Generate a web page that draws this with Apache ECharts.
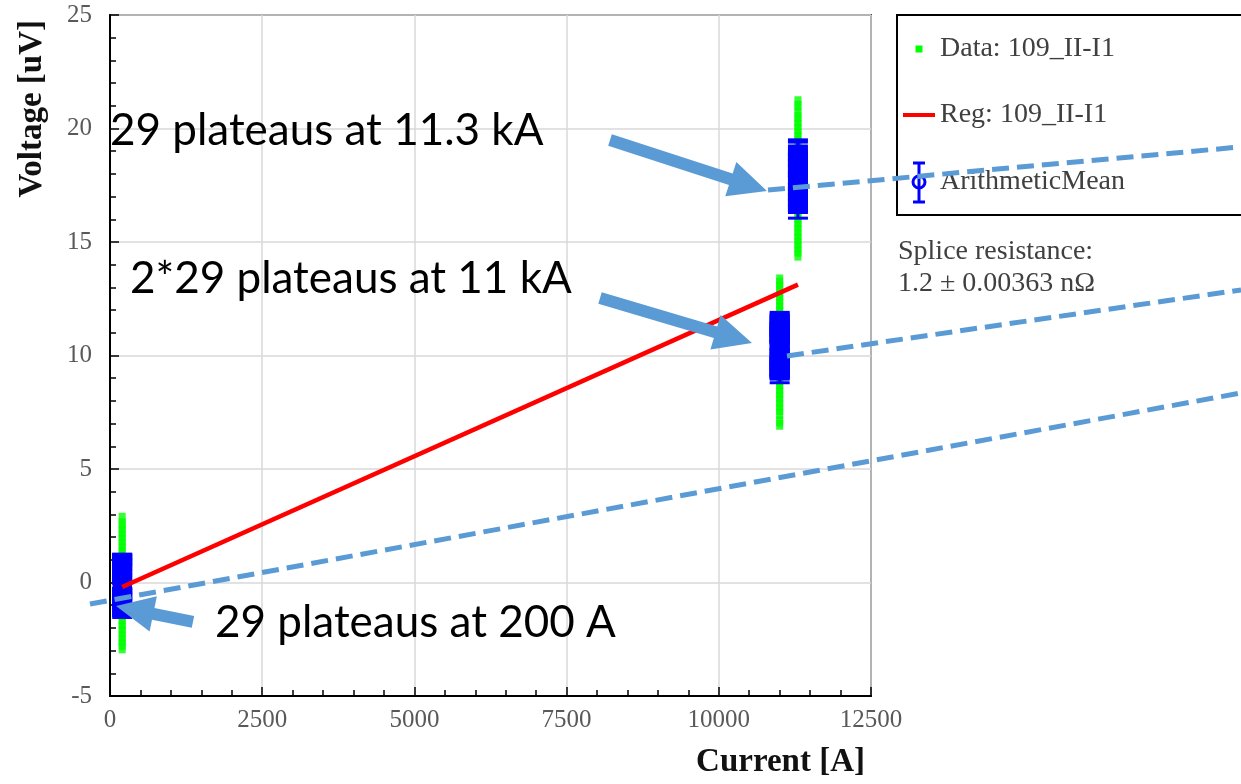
<!DOCTYPE html>
<html>
<head>
<meta charset="utf-8">
<script src="https://cdn.jsdelivr.net/npm/echarts@6/dist/echarts.min.js"></script>
<style>
  html, body { margin: 0; padding: 0; background: #ffffff; }
  #chart { width: 1241px; height: 784px; }
</style>
</head>
<body>
<div id="chart"></div>
<script>
// Plateau currents [A]
const plateauCurrents = [200, 11000, 11300];

// Raw voltage samples [uV] on each plateau
const rawAt200 = [-2.90, -2.74, -2.55, -2.38, -2.17, -1.99, -1.82, -1.60, -1.43, -1.26, -1.05, -0.88, -0.70, -0.51, -0.33, -0.14,
  0.04, 0.22, 0.41, 0.59, 0.77, 0.96, 1.13, 1.31, 1.50, 1.68, 1.87, 2.05, 2.24, 2.42, 2.61, 2.85];
const rawAt11000 = [6.95, 7.10, 7.42, 7.60, 7.81, 7.99, 8.18, 8.37, 8.55, 8.74, 8.92, 9.11, 9.30, 9.48, 9.67, 9.85, 10.04, 10.23,
  10.41, 10.60, 10.78, 10.97, 11.16, 11.34, 11.53, 11.71, 11.90, 12.09, 12.27, 12.46, 12.64, 12.83, 13.02, 13.20, 13.35];
const rawAt11300 = [14.40, 14.58, 14.77, 14.95, 15.14, 15.32, 15.51, 15.70, 15.88, 16.07, 16.25, 16.44, 16.62, 16.81, 17.00, 17.18,
  17.37, 17.55, 17.74, 17.92, 18.11, 18.30, 18.48, 18.67, 18.85, 19.04, 19.22, 19.41, 19.60, 19.78, 19.97, 20.15, 20.34, 20.52,
  20.75, 21.00, 21.20];

// Arithmetic mean per plateau [uV]
const meansAt200 = [0.12, -0.35, 0.48, -0.62, 0.05, -0.18, 0.31, -0.79, 0.22, -0.44, 0.39, -0.07, -0.55, 0.17, -0.27, 0.44,
  -0.71, 0.02, 0.28, -0.38, -0.12, 0.36, -0.66, 0.09, -0.50, 0.25, -0.22, -0.02, 0.50];
const meansAt11000 = [10.42, 9.88, 10.95, 10.13, 9.71, 10.66, 10.29, 11.02, 9.97, 10.51,
  10.18, 9.84, 10.77, 10.35, 9.55, 10.60, 10.08, 11.15, 9.93, 10.45,
  10.22, 10.84, 9.79, 10.38, 10.57, 10.01, 10.91, 10.26, 9.90, 10.70,
  10.48, 10.11, 9.75, 10.63, 10.33, 10.99, 10.04, 10.54, 9.86, 10.73,
  10.16, 10.44, 10.87, 9.96, 10.31, 10.68, 10.06, 10.50, 9.82, 11.08,
  10.24, 10.40, 10.81, 10.14, 9.92, 10.59, 10.36, 10.20];
const meansAt11300 = [17.62, 18.11, 17.25, 18.48, 17.83, 16.80, 17.97, 18.65, 17.41, 18.29, 17.05, 17.71, 18.05, 17.36, 18.75,
  17.54, 17.90, 17.18, 18.38, 17.67, 17.47, 18.20, 17.30, 17.78, 18.02, 17.58, 17.12, 18.15, 17.86];
// Half-width of the error bar on each plateau's mean [uV]
const meanErrors = [0.75, 0.75, 0.75];

// Linear regression end points [A, uV]
const regCurrents = [200, 11300];
const regVoltages = [-0.20, 13.12];

// Axis ticks
const xTicks = { min: 0, max: 12500, step: 2500 };
const yTicks = { min: -5, max: 25, step: 5 };

// Slide annotations, in data units [A, uV]
const noteLabels = ['29 plateaus at 11.3 kA', '2*29 plateaus at 11 kA', '29 plateaus at 200 A'];
const noteAnchors = [[0, 19.89], [328, 13.37], [1725, -1.78]];
const arrowTails = [[8213, 19.49], [8049, 12.53], [1363, -1.74]];
const arrowTips = [[10791, 17.25], [10545, 10.55], [99, -1.04]];
const guideStarts = [[10808, 17.29], [11120, 9.98], [-329, -0.95]];
const guideEnds = [[18578, 19.19], [18578, 12.89], [18578, 8.35]];

const GREEN = '#00ff00';
const BLUE = '#0000ff';
const RED = '#ff0000';
const NOTE_BLUE = '#5b9bd5';
const SERIF = '"Liberation Serif", "Times New Roman", serif';

const rawGroups = [rawAt200, rawAt11000, rawAt11300];
const meanGroups = [meansAt200, meansAt11000, meansAt11300];

const rawData = [];
rawGroups.forEach((vals, g) => vals.forEach(v => rawData.push([plateauCurrents[g], v])));

const meanData = [];
meanGroups.forEach((vals, g) => vals.forEach(v =>
  meanData.push([plateauCurrents[g], v, v - meanErrors[g], v + meanErrors[g]])));

const regData = regCurrents.map((c, i) => [c, regVoltages[i]]);

function renderMean(params, api) {
  const x = api.value(0);
  const pMid = api.coord([x, api.value(1)]);
  const pLo = api.coord([x, api.value(2)]);
  const pHi = api.coord([x, api.value(3)]);
  const cap = 10;
  const style = { stroke: BLUE, lineWidth: 3, fill: 'none' };
  return {
    type: 'group',
    children: [
      { type: 'line', shape: { x1: pLo[0], y1: pLo[1], x2: pHi[0], y2: pHi[1] }, style },
      { type: 'line', shape: { x1: pLo[0] - cap, y1: pLo[1], x2: pLo[0] + cap, y2: pLo[1] }, style },
      { type: 'line', shape: { x1: pHi[0] - cap, y1: pHi[1], x2: pHi[0] + cap, y2: pHi[1] }, style },
      { type: 'circle', shape: { cx: pMid[0], cy: pMid[1], r: 8 }, style }
    ]
  };
}

const chart = echarts.init(document.getElementById('chart'), null, { renderer: 'canvas' });

const axisCommon = {
  type: 'value',
  axisLine: { show: true, onZero: false, lineStyle: { color: '#000', width: 2 } },
  axisTick: { show: true, inside: true, length: 9, lineStyle: { color: '#000', width: 1.5 } },
  minorTick: { show: true, splitNumber: 5, length: 6, lineStyle: { color: '#000', width: 1.5 } },
  splitLine: { show: true, lineStyle: { color: '#d9d9d9', width: 1.5 } },
  minorSplitLine: { show: false }
};

chart.setOption({
  animation: false,
  backgroundColor: '#ffffff',
  grid: { left: 110, right: 370, top: 15, bottom: 88, show: true, borderColor: '#444', borderWidth: 2 },
  xAxis: Object.assign({}, axisCommon, {
    min: xTicks.min, max: xTicks.max, interval: xTicks.step,
    axisLabel: { fontFamily: SERIF, fontSize: 25, color: '#595959', margin: 12, formatter: v => String(v) },
    name: 'Current [A]',
    nameLocation: 'end',
    nameGap: 0,
    nameTextStyle: { fontFamily: SERIF, fontSize: 33, fontWeight: 'bold', color: '#111',
      align: 'right', verticalAlign: 'top', padding: [50, 6, 0, 0] }
  }),
  yAxis: Object.assign({}, axisCommon, {
    min: yTicks.min, max: yTicks.max, interval: yTicks.step,
    axisLabel: { fontFamily: SERIF, fontSize: 25, color: '#595959', margin: 18, formatter: v => String(v) },
    name: 'Voltage [uV]',
    nameLocation: 'end',
    nameRotate: 90,
    nameGap: -5,
    nameTextStyle: { fontFamily: SERIF, fontSize: 33, fontWeight: 'bold', color: '#111',
      align: 'right', verticalAlign: 'bottom', padding: [0, 0, 61, 0] }
  }),
  series: [
    {
      name: 'Data: 109_II-I1',
      type: 'scatter',
      data: rawData,
      symbol: 'rect',
      symbolSize: [7, 10],
      itemStyle: { color: GREEN },
      z: 2
    },
    {
      name: 'ArithmeticMean',
      type: 'custom',
      data: meanData,
      renderItem: renderMean,
      encode: { x: 0, y: [1, 2, 3] },
      z: 3
    },
    {
      name: 'Reg: 109_II-I1',
      type: 'line',
      data: regData,
      symbol: 'none',
      lineStyle: { color: RED, width: 4.5 },
      z: 4
    }
  ]
});

// Legend box, fit note and slide annotations
const px = p => chart.convertToPixel({ gridIndex: 0 }, p);
const graphics = [];

const legendText = { fontFamily: SERIF, fontSize: 28, fill: '#404040', textVerticalAlign: 'middle' };
graphics.push(
  { type: 'rect', shape: { x: 897, y: 15, width: 420, height: 200 },
    style: { fill: '#fff', stroke: '#000', lineWidth: 2 }, z: 50 },
  { type: 'rect', shape: { x: 915.5, y: 45.5, width: 7, height: 7 }, style: { fill: GREEN }, z: 51 },
  { type: 'text', x: 940, y: 49, style: Object.assign({ text: 'Data: 109_II-I1' }, legendText), z: 51 },
  { type: 'line', shape: { x1: 903, y1: 115, x2: 935, y2: 115 }, style: { stroke: RED, lineWidth: 4 }, z: 51 },
  { type: 'text', x: 940, y: 115, style: Object.assign({ text: 'Reg: 109_II-I1' }, legendText), z: 51 },
  { type: 'line', shape: { x1: 919, y1: 163, x2: 919, y2: 202 }, style: { stroke: BLUE, lineWidth: 3 }, z: 51 },
  { type: 'line', shape: { x1: 913, y1: 163, x2: 925, y2: 163 }, style: { stroke: BLUE, lineWidth: 3 }, z: 51 },
  { type: 'line', shape: { x1: 913, y1: 202, x2: 925, y2: 202 }, style: { stroke: BLUE, lineWidth: 3 }, z: 51 },
  { type: 'circle', shape: { cx: 919, cy: 182, r: 6 }, style: { stroke: BLUE, lineWidth: 3, fill: 'none' }, z: 51 },
  { type: 'text', x: 940, y: 182, style: Object.assign({ text: 'ArithmeticMean' }, legendText), z: 51 },
  { type: 'text', x: 898, y: 252, style: Object.assign({ text: 'Splice resistance:' }, legendText), z: 51 },
  { type: 'text', x: 898, y: 284, style: Object.assign({ text: '1.2 \u00b1 0.00363 n\u03a9' }, legendText), z: 51 }
);

noteLabels.forEach((label, i) => {
  const p = px(noteAnchors[i]);
  graphics.push({ type: 'text', x: p[0], y: p[1], z: 60,
    style: { text: label, fontFamily: 'Lato, "Open Sans", sans-serif', fontSize: 44, fill: '#000',
      textAlign: 'left', textVerticalAlign: 'middle' } });
});

guideStarts.forEach((s, i) => {
  const a = px(s), b = px(guideEnds[i]);
  graphics.push({ type: 'line', z: 70, shape: { x1: a[0], y1: a[1], x2: b[0], y2: b[1] },
    style: { stroke: NOTE_BLUE, lineWidth: 5, lineDash: [17, 8] } });
});

arrowTails.forEach((t, i) => {
  const T = px(t), P = px(arrowTips[i]);
  const dx = P[0] - T[0], dy = P[1] - T[1];
  const len = Math.hypot(dx, dy);
  const ux = dx / len, uy = dy / len, nx = -uy, ny = ux;
  const headLen = 38, headHalf = 18, shaftHalf = 6;
  const B = [P[0] - ux * headLen, P[1] - uy * headLen];
  graphics.push({ type: 'polygon', z: 70, shape: { points: [
    [T[0] + nx * shaftHalf, T[1] + ny * shaftHalf],
    [B[0] + nx * shaftHalf, B[1] + ny * shaftHalf],
    [B[0] + nx * headHalf, B[1] + ny * headHalf],
    [P[0], P[1]],
    [B[0] - nx * headHalf, B[1] - ny * headHalf],
    [B[0] - nx * shaftHalf, B[1] - ny * shaftHalf],
    [T[0] - nx * shaftHalf, T[1] - ny * shaftHalf]
  ] }, style: { fill: NOTE_BLUE } });
});

chart.setOption({ graphic: graphics });
</script>
</body>
</html>
